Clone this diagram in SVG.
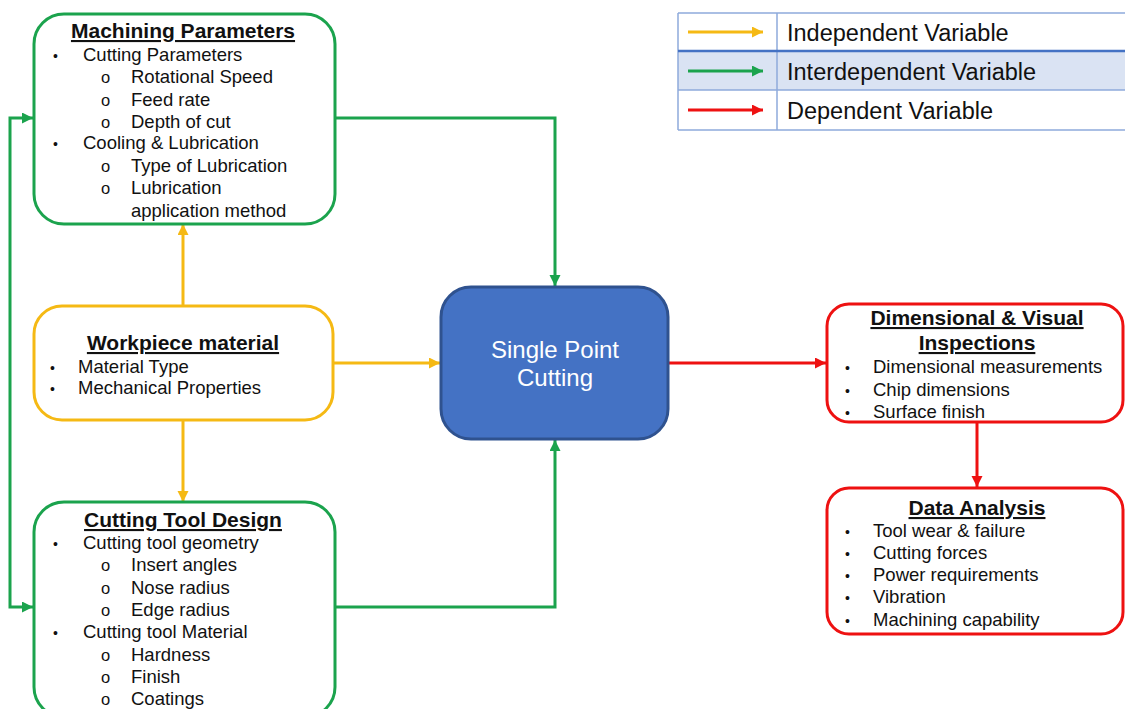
<svg xmlns="http://www.w3.org/2000/svg" width="1125" height="709" viewBox="0 0 1125 709">
<style>
text{font-family:"Liberation Sans",Arial,sans-serif;fill:#111}
.t{font-size:21px;font-weight:bold;text-decoration:underline;text-anchor:middle}
.b{font-size:18.5px}
.d{font-size:14px}
.o{font-size:16.5px}
.lg{font-size:23.5px}
.w{font-size:24px;fill:#fff;text-anchor:middle}
.box{fill:#fff;stroke-width:3}
.g{stroke:#1ba34d}.y{stroke:#f5b914}.r{stroke:#ee1111}
.c{fill:none;stroke-width:3}
</style>
<defs>
<marker id="ag" markerUnits="userSpaceOnUse" markerWidth="13" markerHeight="12" refX="11" refY="5.5" orient="auto"><path d="M0,0L11,5.5L0,11z" fill="#1ba34d"/></marker>
<marker id="ay" markerUnits="userSpaceOnUse" markerWidth="13" markerHeight="12" refX="11" refY="5.5" orient="auto"><path d="M0,0L11,5.5L0,11z" fill="#f5b914"/></marker>
<marker id="ar" markerUnits="userSpaceOnUse" markerWidth="13" markerHeight="12" refX="11" refY="5.5" orient="auto"><path d="M0,0L11,5.5L0,11z" fill="#ee1111"/></marker>
</defs>
<rect width="1125" height="709" fill="#fff"/>
<g id="legend">
<rect x="678" y="51" width="447" height="39" fill="#dae3f3"/>
<path d="M678,13H1125M678,130H1125M678,13V130M777,13V130" stroke="#8eaadb" stroke-width="1.5" fill="none"/>
<path d="M678,90H1125" stroke="#8eaadb" stroke-width="1.5"/>
<path d="M678,51H1125" stroke="#4472c4" stroke-width="2.5"/>
<line x1="688" y1="32" x2="763" y2="32" class="c y" stroke-width="3.5" marker-end="url(#ay)"/>
<line x1="688" y1="71" x2="763" y2="71" class="c g" stroke-width="3.5" marker-end="url(#ag)"/>
<line x1="688" y1="110" x2="763" y2="110" class="c r" stroke-width="3.5" marker-end="url(#ar)"/>
<text x="787" y="41" class="lg">Independent Variable</text>
<text x="787" y="80" class="lg">Interdependent Variable</text>
<text x="787" y="119" class="lg">Dependent Variable</text>
</g>
<g id="connectors">
<polyline points="335,118 555,118 555,286" class="c g" marker-end="url(#ag)"/>
<polyline points="335,607 555,607 555,440" class="c g" marker-end="url(#ag)"/>
<polyline points="10,362 10,118 33,118" class="c g" marker-end="url(#ag)"/>
<polyline points="10,362 10,607 33,607" class="c g" marker-end="url(#ag)"/>
<line x1="183" y1="305" x2="183" y2="224" class="c y" marker-end="url(#ay)"/>
<line x1="183" y1="420" x2="183" y2="502" class="c y" marker-end="url(#ay)"/>
<line x1="333" y1="363" x2="440" y2="363" class="c y" marker-end="url(#ay)"/>
<line x1="669" y1="363" x2="826" y2="363" class="c r" marker-end="url(#ar)"/>
<line x1="977" y1="423" x2="977" y2="487" class="c r" marker-end="url(#ar)"/>
</g>
<g id="machining">
<rect x="34" y="14" width="301" height="210" rx="30" class="box g"/>
<text x="183" y="38" class="t">Machining Parameters</text>
<text x="53" y="61" class="d">•</text><text x="83" y="61" class="b">Cutting Parameters</text>
<text x="101" y="83" class="o">o</text><text x="131" y="83" class="b">Rotational Speed</text>
<text x="101" y="106" class="o">o</text><text x="131" y="106" class="b">Feed rate</text>
<text x="101" y="128" class="o">o</text><text x="131" y="128" class="b">Depth of cut</text>
<text x="53" y="149" class="d">•</text><text x="83" y="149" class="b">Cooling &amp; Lubrication</text>
<text x="101" y="172" class="o">o</text><text x="131" y="172" class="b">Type of Lubrication</text>
<text x="101" y="194" class="o">o</text><text x="131" y="194" class="b">Lubrication</text>
<text x="131" y="217" class="b">application method</text>
</g>
<g id="workpiece">
<rect x="34" y="306" width="299" height="114" rx="28" class="box y"/>
<text x="183" y="350" class="t">Workpiece material</text>
<text x="50" y="373" class="d">•</text><text x="78" y="373" class="b">Material Type</text>
<text x="50" y="394" class="d">•</text><text x="78" y="394" class="b">Mechanical Properties</text>
</g>
<g id="tooldesign">
<rect x="34" y="502" width="301" height="215" rx="30" class="box g"/>
<text x="183" y="527" class="t">Cutting Tool Design</text>
<text x="53" y="549" class="d">•</text><text x="83" y="549" class="b">Cutting tool geometry</text>
<text x="101" y="571" class="o">o</text><text x="131" y="571" class="b">Insert angles</text>
<text x="101" y="594" class="o">o</text><text x="131" y="594" class="b">Nose radius</text>
<text x="101" y="616" class="o">o</text><text x="131" y="616" class="b">Edge radius</text>
<text x="53" y="638" class="d">•</text><text x="83" y="638" class="b">Cutting tool Material</text>
<text x="101" y="661" class="o">o</text><text x="131" y="661" class="b">Hardness</text>
<text x="101" y="683" class="o">o</text><text x="131" y="683" class="b">Finish</text>
<text x="101" y="705" class="o">o</text><text x="131" y="705" class="b">Coatings</text>
</g>
<g id="spc">
<rect x="441" y="287" width="227" height="152" rx="30" fill="#4472c4" stroke="#2f528f" stroke-width="3"/>
<text x="555" y="358" class="w">Single Point</text>
<text x="555" y="386" class="w">Cutting</text>
</g>
<g id="inspections">
<rect x="827" y="304" width="296" height="118" rx="22" class="box r"/>
<text x="977" y="325" class="t">Dimensional &amp; Visual</text>
<text x="977" y="350" class="t">Inspections</text>
<text x="845" y="373" class="d">•</text><text x="873" y="373" class="b">Dimensional measurements</text>
<text x="845" y="396" class="d">•</text><text x="873" y="396" class="b">Chip dimensions</text>
<text x="845" y="418" class="d">•</text><text x="873" y="418" class="b">Surface finish</text>
</g>
<g id="analysis">
<rect x="827" y="488" width="296" height="146" rx="22" class="box r"/>
<text x="977" y="515" class="t">Data Analysis</text>
<text x="845" y="537" class="d">•</text><text x="873" y="537" class="b">Tool wear &amp; failure</text>
<text x="845" y="559" class="d">•</text><text x="873" y="559" class="b">Cutting forces</text>
<text x="845" y="581" class="d">•</text><text x="873" y="581" class="b">Power requirements</text>
<text x="845" y="603" class="d">•</text><text x="873" y="603" class="b">Vibration</text>
<text x="845" y="626" class="d">•</text><text x="873" y="626" class="b">Machining capability</text>
</g>
</svg>
